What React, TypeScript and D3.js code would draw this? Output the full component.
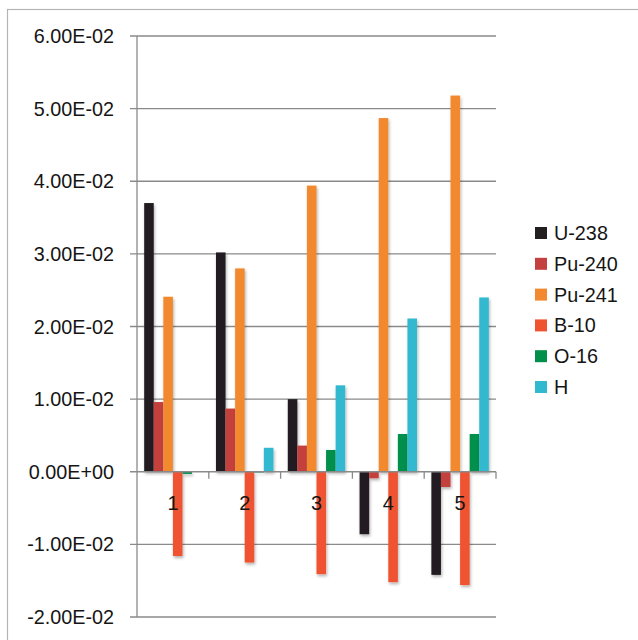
import React from "react";
import * as d3 from "d3";

const categories = ["1", "2", "3", "4", "5"];
const seriesNames = ["U-238", "Pu-240", "Pu-241", "B-10", "O-16", "H"];
const seriesColors = ["#231f20", "#c4403e", "#f2892f", "#ef5330", "#00904c", "#31b9d0"];
const u238 = [0.037, 0.0302, 0.01, -0.0086, -0.0142];
const pu240 = [0.0096, 0.0087, 0.0036, -0.0009, -0.0021];
const pu241 = [0.0241, 0.028, 0.0394, 0.0487, 0.0518];
const b10 = [-0.0116, -0.0125, -0.0141, -0.0152, -0.0156];
const o16 = [-0.0003, -0.0001, 0.003, 0.0052, 0.0052];
const h = [0.0, 0.0033, 0.0119, 0.0211, 0.024];
const yTickValues = [0.06, 0.05, 0.04, 0.03, 0.02, 0.01, 0, -0.01, -0.02];
const yTickLabels = ["6.00E-02", "5.00E-02", "4.00E-02", "3.00E-02", "2.00E-02", "1.00E-02", "0.00E+00", "-1.00E-02", "-2.00E-02"];

const seriesValues = [u238, pu240, pu241, b10, o16, h];

export default function App() {
  const W = 638, H = 640;
  const left = 137, right = 496, top = 36, bottom = 617;
  const y = d3.scaleLinear().domain([-0.02, 0.06]).range([bottom, top]);
  const x = d3.scaleBand<string>().domain(categories).range([left, right]).padding(0);
  const bw = x.bandwidth();
  const gap = bw / 7.5 * 0.75;
  const xs = d3.scaleBand<string>().domain(seriesNames).range([gap, bw - gap]).padding(0);
  const font = "'Liberation Sans', Arial, sans-serif";
  const fs = 19.8;
  const gridColor = "#8a8a8a";
  const y0 = y(0);

  return (
    <svg width={W} height={H} style={{ position: "fixed", left: 0, top: 0, background: "#fff" }}>
      <defs>
        <filter id="sh" x="-50%" y="-20%" width="200%" height="140%">
          <feDropShadow dx="1" dy="2" stdDeviation="1.4" floodColor="#000" floodOpacity="0.3" />
        </filter>
      </defs>
      <rect x={7.5} y={9.5} width={700} height={700} fill="#fff" stroke="#b5b5b5" strokeWidth={1.2} />
      {yTickValues.map((v, i) => (
        <g key={"g" + i}>
          {v !== 0 && (
            <line x1={left - 7} x2={right} y1={y(v)} y2={y(v)} stroke={gridColor} strokeWidth={1.3} />
          )}
          <text x={114} y={y(v)} textAnchor="end" dominantBaseline="central" fontFamily={font} fontSize={fs} fill="#151515">
            {yTickLabels[i]}
          </text>
        </g>
      ))}
      <line x1={left} x2={left} y1={top} y2={bottom} stroke={gridColor} strokeWidth={1.3} />
      {seriesNames.map((s, si) => (
        <g key={s} filter="url(#sh)">
          {categories.map((c, ci) => {
            const v = seriesValues[si][ci];
            if (v === 0) return null;
            const yy = y(v);
            return (
              <rect
                key={c}
                x={(x(c) as number) + (xs(s) as number)}
                y={Math.min(yy, y0)}
                width={xs.bandwidth()}
                height={Math.max(Math.abs(yy - y0), 0.8)}
                fill={seriesColors[si]}
              />
            );
          })}
        </g>
      ))}
      <line x1={left - 7} x2={right} y1={y0} y2={y0} stroke={gridColor} strokeWidth={1.3} />
      {categories.map((c, i) => (
        <line key={"t" + i} x1={(x(c) as number) + bw} x2={(x(c) as number) + bw} y1={y0} y2={y0 + 7} stroke={gridColor} strokeWidth={1.3} />
      ))}
      {categories.map((c) => (
        <text key={"l" + c} x={(x(c) as number) + bw / 2} y={y0 + 31} textAnchor="middle" dominantBaseline="central" fontFamily={font} fontSize={fs} fill="#151515">
          {c}
        </text>
      ))}
      {seriesNames.map((s, i) => {
        const ly = 233 + i * 30.8;
        return (
          <g key={"lg" + s}>
            <rect x={535} y={ly - 6} width={12} height={12} fill={seriesColors[i]} />
            <text x={554} y={ly} dominantBaseline="central" fontFamily={font} fontSize={fs} fill="#151515">
              {s}
            </text>
          </g>
        );
      })}
    </svg>
  );
}
